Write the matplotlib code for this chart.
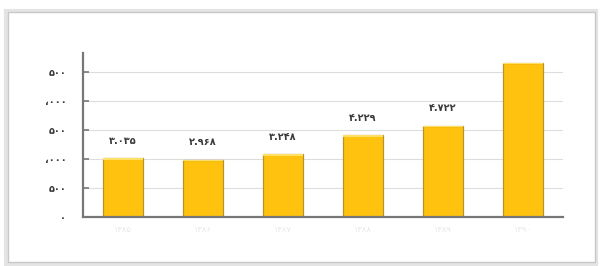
import matplotlib
matplotlib.use("Agg")
import matplotlib.pyplot as plt
from matplotlib.patches import Rectangle

plt.rcParams['font.family'] = ['DejaVu Sans', 'Noto Sans']

categories = ["۱۳۸۵", "۱۳۸۶", "۱۳۸۷", "۱۳۸۸", "۱۳۸۹", "۱۳۹۰"]
values = [3035, 2968, 3248, 4229, 4722, 7960]
value_labels = ["۳.۰۳۵", "۲.۹۶۸", "۳.۲۴۸", "۴.۲۲۹", "۴.۷۲۲", ""]
yticks = [0, 1500, 3000, 4500, 6000, 7500]
ytick_labels = ["۰", "۵۰۰", "،۰۰۰", "۵۰۰", "،۰۰۰", "۵۰۰"]

fig = plt.figure(figsize=(6.02, 2.66), dpi=100)
fig.patch.set_facecolor("white")

# outer frame with soft shadow
fig.patches.append(Rectangle((6/602, 1 - 264/266), 590/602, 253/266, transform=fig.transFigure,
                             facecolor="none", edgecolor="#e4e4e4", linewidth=3, zorder=-2))
fig.patches.append(Rectangle((8/602, 1 - 262/266), 587/602, 250/266, transform=fig.transFigure,
                             facecolor="white", edgecolor="#c8c8c8", linewidth=1.0, zorder=-1))

ax = fig.add_axes([83/602, 1 - 217/266, 480/602, (217 - 53)/266])
ax.set_zorder(1)
ax.set_facecolor("white")
x = list(range(len(categories)))
bars = ax.bar(x, values, width=0.5, color="#FFC20E", edgecolor="#B8922A", linewidth=0.9, zorder=3)
# lighter top highlight
ax.bar(x, [70 for v in values], bottom=[v - 70 for v in values], width=0.5,
       color="#FFE066", edgecolor="none", zorder=4)

for xi, v, lab in zip(x, values, value_labels):
    if lab:
        ax.annotate(lab, (xi, v), xytext=(0, 9), textcoords="offset points",
                    ha="center", va="bottom", fontsize=7, fontweight="bold", color="#3a3a3a")

ax.set_xlim(-0.5, 5.5)
ax.set_ylim(0, 8480)
ax.set_yticks(yticks)
ax.set_yticklabels(ytick_labels, fontsize=7, fontweight="bold", color="#3a3a3a")
ax.set_xticks(x)
ax.set_xticklabels(categories, fontsize=6, color="#e8e8e8")
ax.tick_params(axis="y", direction="in", length=4, width=1.2, color="#777777", pad=12)
ax.tick_params(axis="x", length=0, pad=6)
ax.grid(axis="y", color="#dddddd", linewidth=0.8, zorder=0)
for s in ["top", "right"]:
    ax.spines[s].set_visible(False)
for s in ["left", "bottom"]:
    ax.spines[s].set_color("#777777")
    ax.spines[s].set_linewidth(1.6)
ax.spines["left"].set_zorder(5)
ax.spines["bottom"].set_zorder(5)

fig.savefig("out.png", dpi=100)
